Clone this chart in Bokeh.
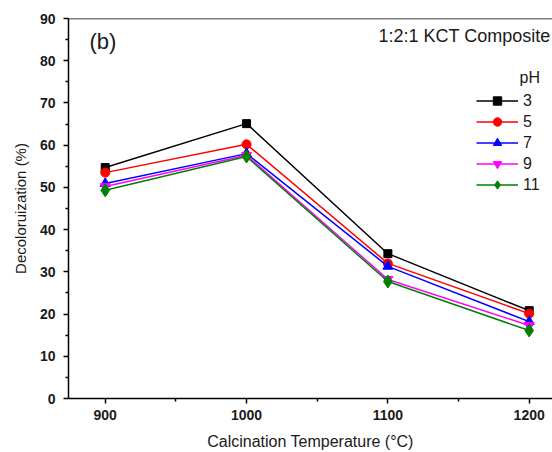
from bokeh.plotting import figure
from bokeh.models import Range1d, FixedTicker, Label, Legend, LegendItem, Span
from bokeh.embed import file_html
from bokeh.resources import INLINE

temps = [900, 1000, 1100, 1200]
ph_labels = ["3", "5", "7", "9", "11"]
ph3 = [54.7, 65.1, 34.3, 20.8]
ph5 = [53.5, 60.2, 32.0, 20.1]
ph7 = [50.9, 58.0, 31.3, 18.2]
ph9 = [50.2, 57.6, 28.2, 17.3]
ph11 = [49.3, 57.3, 27.7, 16.1]
x_ticks = [900, 1000, 1100, 1200]
x_minor = [950, 1050, 1150]
y_ticks = [0, 10, 20, 30, 40, 50, 60, 70, 80, 90]
y_minor = [5, 15, 25, 35, 45, 55, 65, 75, 85]

FONT = "Liberation Sans"
TXT = "#1a1a1a"

p = figure(width=552, height=452, output_backend="svg", toolbar_location=None,
           x_range=Range1d(874, 1216.5), y_range=Range1d(0, 90),
           min_border_left=68, min_border_right=0, min_border_top=18, min_border_bottom=54)
p.outline_line_color = None
p.grid.visible = False
p.background_fill_color = "white"
p.border_fill_color = "white"

for ax in (p.xaxis[0], p.yaxis[0]):
    ax.axis_line_width = 1.5
    ax.major_tick_line_width = 1.5
    ax.minor_tick_line_width = 1.5
    ax.major_tick_out = 5
    ax.major_tick_in = 0
    ax.minor_tick_out = 3
    ax.minor_tick_in = 0
    ax.major_label_text_font = FONT
    ax.major_label_text_font_style = "bold"
    ax.major_label_text_font_size = "14px"
    ax.major_label_text_color = TXT
    ax.axis_label_text_font = FONT
    ax.axis_label_text_font_style = "normal"
    ax.axis_label_text_color = TXT

p.xaxis.ticker = FixedTicker(ticks=x_ticks, minor_ticks=x_minor)
p.yaxis.ticker = FixedTicker(ticks=y_ticks, minor_ticks=y_minor)
p.xaxis.axis_label = "Calcination Temperature (°C)"
p.yaxis.axis_label = "Decoloruization (%)"
p.xaxis.axis_label_text_font_size = "16px"
p.yaxis.axis_label_text_font_size = "15px"
p.xaxis.major_label_standoff = 6
p.yaxis.major_label_standoff = 8
p.xaxis.axis_label_standoff = 10
p.yaxis.axis_label_standoff = 8

p.add_layout(Span(location=90, dimension="width", line_color="black", line_width=1.5))

series = [ph3, ph5, ph7, ph9, ph11]
colors = ["black", "red", "blue", "magenta", "green"]
markers = ["square", "circle", "triangle", "inverted_triangle", "diamond"]
sizes = [8, 9, 10, 10, 13]
items = []
for vals, c, m, s, lab in zip(series, colors, markers, sizes, ph_labels):
    ln = p.line(temps, vals, line_color=c, line_width=1.5)
    sc = p.scatter(temps, vals, marker=m, size=s, fill_color=c, line_color=c)
    items.append(LegendItem(label=lab, renderers=[ln, sc]))

legend = Legend(items=items, location=(408, 203), padding=0, margin=0, spacing=0,
                glyph_width=42, glyph_height=21, label_height=21,
                label_text_font=FONT, label_text_font_size="16px", label_standoff=5,
                label_text_color=TXT,
                background_fill_alpha=0, border_line_color=None)
p.add_layout(legend, "center")

p.add_layout(Label(x=451, y=313, x_units="screen", y_units="screen", text="pH",
                   text_font=FONT, text_font_size="16px", text_color=TXT))
p.add_layout(Label(x=21, y=345, x_units="screen", y_units="screen", text="(b)",
                   text_font=FONT, text_font_size="22px", text_color=TXT))
p.add_layout(Label(x=310, y=353, x_units="screen", y_units="screen", text="1:2:1 KCT Composite",
                   text_font=FONT, text_font_size="18px", text_color=TXT))

open("out.html", "w").write(file_html(p, INLINE))
